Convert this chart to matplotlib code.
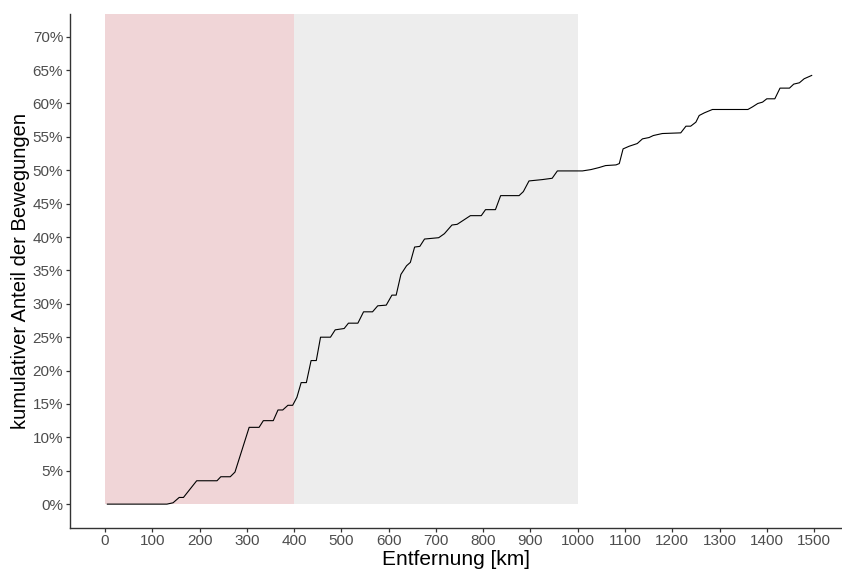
import matplotlib
matplotlib.use("Agg")
import matplotlib.pyplot as plt
from matplotlib.ticker import FuncFormatter

plt.rcParams['font.family'] = ['Liberation Sans', 'DejaVu Sans']

# cumulative share of movements (%) against distance (km)
distance_km = [5, 131, 144, 157, 166, 194, 237, 245, 265, 275,
               305, 326, 335, 356, 366, 376, 387, 397, 406, 415,
               426, 436, 447, 456, 477, 487, 506, 515, 535, 547,
               566, 577, 595, 607, 616, 626, 638, 646, 655, 666,
               676, 706, 718, 734, 745, 773, 796, 805, 826, 837,
               876, 885, 897, 925, 946, 957, 1010, 1028, 1045, 1059,
               1081, 1088, 1096, 1109, 1126, 1137, 1151, 1160, 1179, 1218,
               1229, 1239, 1250, 1257, 1268, 1285, 1360, 1370, 1381, 1391,
               1400, 1417, 1428, 1448, 1457, 1469, 1479, 1495]
share_pct = [0, 0, 0.2, 1.0, 1.0, 3.5, 3.5, 4.1, 4.1, 4.8,
             11.5, 11.5, 12.5, 12.5, 14.1, 14.1, 14.8, 14.8, 16.0, 18.2,
             18.2, 21.5, 21.5, 25.0, 25.0, 26.1, 26.3, 27.1, 27.1, 28.8,
             28.8, 29.7, 29.8, 31.3, 31.3, 34.4, 35.7, 36.2, 38.5, 38.6,
             39.7, 39.9, 40.5, 41.8, 41.9, 43.2, 43.2, 44.1, 44.1, 46.2,
             46.2, 46.8, 48.4, 48.6, 48.8, 49.9, 49.9, 50.1, 50.4, 50.7,
             50.8, 51.0, 53.2, 53.6, 54.0, 54.7, 54.9, 55.2, 55.5, 55.6,
             56.6, 56.6, 57.2, 58.2, 58.6, 59.1, 59.1, 59.5, 60.0, 60.2,
             60.7, 60.7, 62.3, 62.3, 62.9, 63.1, 63.7, 64.2]

# distance bands shaded in the background
band_edges = [0, 400, 1000]
band_colors = ['#F0D5D7', '#EDEDED']

x_ticks = list(range(0, 1501, 100))
y_ticks = [v / 100 for v in range(0, 71, 5)]

fig = plt.figure(figsize=(8.42, 5.72), dpi=100)
ax = fig.add_axes([70 / 842, 44.5 / 572, (841 - 70) / 842, (558 - 44.5) / 572])

ax.set_xlim(-74, 1557)
ax.set_ylim(-0.035, 0.734)

for (lo, hi), col in zip(zip(band_edges[:-1], band_edges[1:]), band_colors):
    ax.fill_between([lo, hi], 0, 1, color=col, linewidth=0, zorder=0)

ax.plot(distance_km, [v / 100 for v in share_pct], color='black', linewidth=0.8, zorder=2)

ax.set_xticks(x_ticks)
ax.set_yticks(y_ticks)
ax.yaxis.set_major_formatter(FuncFormatter(lambda v, _: f"{round(v * 100)}%"))

for side in ['top', 'right']:
    ax.spines[side].set_visible(False)
for side in ['left', 'bottom']:
    ax.spines[side].set_color('#333333')
    ax.spines[side].set_linewidth(1.0)

ax.tick_params(axis='both', colors='#333333', length=2.75, width=0.9,
               labelsize=11, labelcolor='#4D4D4D', pad=2.2)

ax.set_xlabel('Entfernung [km]', fontsize=15, color='black', labelpad=1)
ax.set_ylabel('kumulativer Anteil der Bewegungen', fontsize=14.5, color='black', labelpad=2)

fig.savefig('out.png', dpi=100)
